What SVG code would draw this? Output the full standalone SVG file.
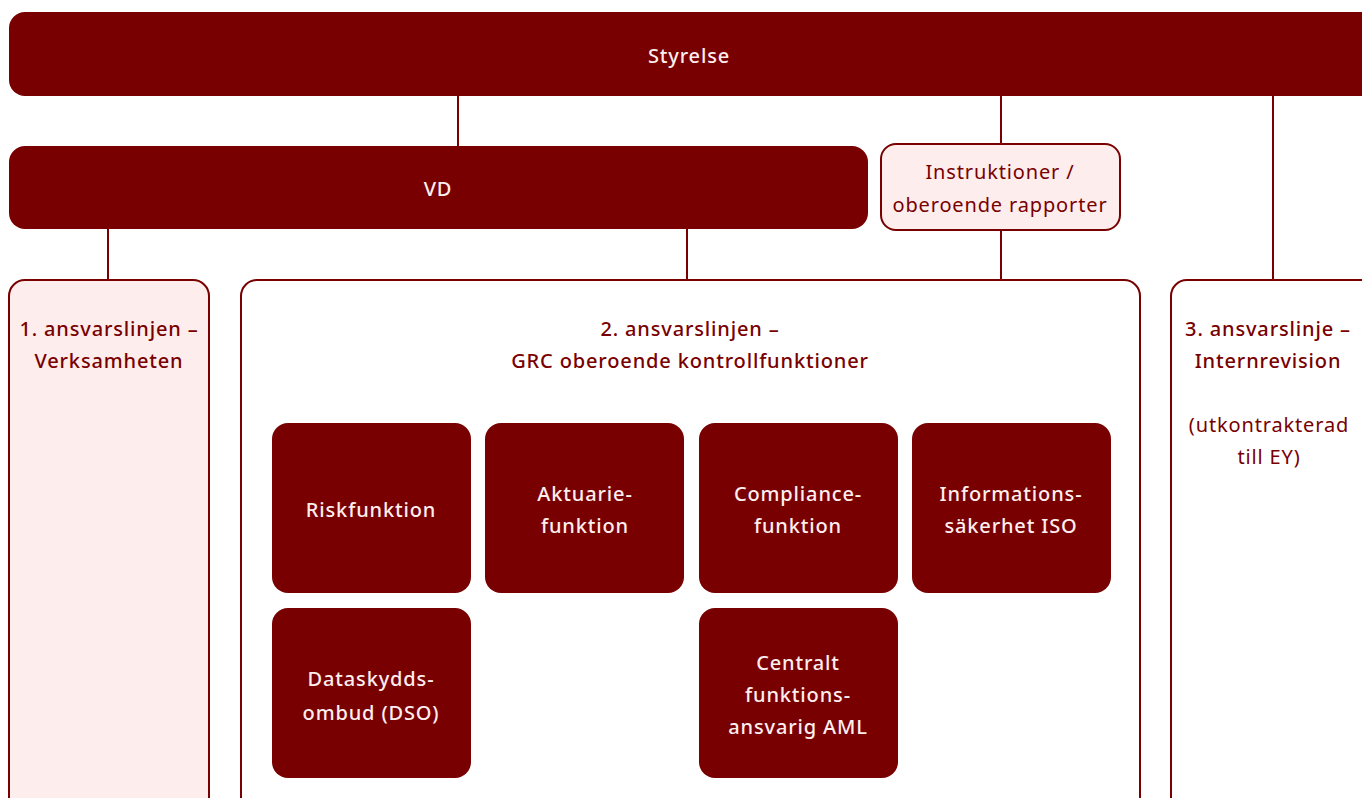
<svg xmlns="http://www.w3.org/2000/svg" width="1362" height="798" viewBox="0 0 1362 798">
<style>
.dark{fill:#780000}
.pale{fill:#fdeded;stroke:#780000;stroke-width:2}
.open{fill:#ffffff;stroke:#780000;stroke-width:2}
.conn line{stroke:#780000;stroke-width:2}
text{font-family:"Noto Sans","Open Sans","Liberation Sans",sans-serif;font-size:20px;text-anchor:middle;dominant-baseline:central;letter-spacing:0.85px}
.wt{fill:#fdeeee;font-weight:500}
.rt{fill:#780000;font-weight:500}
.rr{fill:#780000;font-weight:400}
</style>
<rect width="1362" height="798" fill="#ffffff"/>
<g id="connectors" class="conn">
<line x1="458" y1="96" x2="458" y2="146"/>
<line x1="1001" y1="96" x2="1001" y2="144"/>
<line x1="1001" y1="230" x2="1001" y2="280"/>
<line x1="108" y1="229" x2="108" y2="280"/>
<line x1="687" y1="229" x2="687" y2="280"/>
<line x1="1273" y1="96" x2="1273" y2="280"/>
</g>
<g id="styrelse">
<rect class="dark" x="9" y="12" width="1368" height="84" rx="16"/>
<text class="wt" x="689" y="55">Styrelse</text>
</g>
<g id="vd">
<rect class="dark" x="9" y="146" width="859" height="83" rx="16"/>
<text class="wt" x="438" y="188">VD</text>
</g>
<g id="instruktioner">
<rect class="pale" x="881" y="144" width="239" height="86" rx="15"/>
<text class="rr" x="1000" y="171">Instruktioner /</text>
<text class="rr" x="1000" y="204">oberoende rapporter</text>
</g>
<g id="linje1">
<rect class="pale" x="9" y="280" width="200" height="540" rx="16"/>
<text class="rt" x="109" y="328">1. ansvarslinjen –</text>
<text class="rt" x="109" y="360">Verksamheten</text>
</g>
<g id="linje2">
<rect class="open" x="241" y="280" width="899" height="540" rx="16"/>
<text class="rt" x="690" y="328">2. ansvarslinjen –</text>
<text class="rt" x="690" y="360">GRC oberoende kontrollfunktioner</text>
</g>
<g id="linje3">
<rect class="open" x="1171" y="280" width="220" height="540" rx="16"/>
<text class="rt" x="1268" y="328">3. ansvarslinje –</text>
<text class="rt" x="1268" y="360">Internrevision</text>
<text class="rr" x="1269" y="424">(utkontrakterad</text>
<text class="rr" x="1269" y="456">till EY)</text>
</g>
<g id="riskfunktion">
<rect class="dark" x="272" y="423" width="199" height="170" rx="16"/>
<text class="wt" x="371" y="509">Riskfunktion</text>
</g>
<g id="aktuarie">
<rect class="dark" x="485" y="423" width="199" height="170" rx="16"/>
<text class="wt" x="585" y="493">Aktuarie-</text>
<text class="wt" x="585" y="525">funktion</text>
</g>
<g id="compliance">
<rect class="dark" x="699" y="423" width="199" height="170" rx="16"/>
<text class="wt" x="798" y="493">Compliance-</text>
<text class="wt" x="798" y="525">funktion</text>
</g>
<g id="informationssakerhet">
<rect class="dark" x="912" y="423" width="199" height="170" rx="16"/>
<text class="wt" x="1011" y="493">Informations-</text>
<text class="wt" x="1011" y="525">säkerhet ISO</text>
</g>
<g id="dataskydd">
<rect class="dark" x="272" y="608" width="199" height="170" rx="16"/>
<text class="wt" x="371" y="678">Dataskydds-</text>
<text class="wt" x="371" y="712">ombud (DSO)</text>
</g>
<g id="aml">
<rect class="dark" x="699" y="608" width="199" height="170" rx="16"/>
<text class="wt" x="798" y="662">Centralt</text>
<text class="wt" x="798" y="694">funktions-</text>
<text class="wt" x="798" y="726">ansvarig AML</text>
</g>
</svg>
